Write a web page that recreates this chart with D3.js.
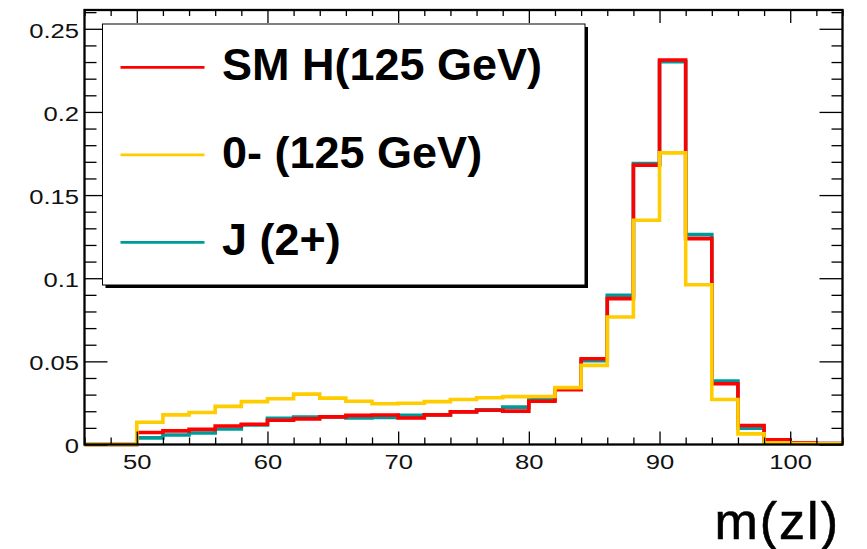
<!DOCTYPE html>
<html>
<head>
<meta charset="utf-8">
<script src="https://cdn.jsdelivr.net/npm/d3@7"></script>
<style>
  html, body { margin: 0; padding: 0; background: #fff; }
  svg { display: block; }
</style>
</head>
<body>
<svg id="chart" width="867" height="549"></svg>
<script>
// Bin low edges of the m(zl) histogram (2 GeV wide bins, 46 to 104)
const binEdges = [46, 48, 50, 52, 54, 56, 58, 60, 62, 64, 66, 68, 70, 72, 74,
                  76, 78, 80, 82, 84, 86, 88, 90, 92, 94, 96, 98, 100, 102, 104];

// Normalised bin contents per hypothesis
const smH = [0, 0, 0.0072, 0.0082, 0.0091, 0.0111, 0.0122, 0.0146, 0.0154, 0.0166,
             0.0175, 0.0177, 0.0159, 0.0178, 0.0196, 0.0206, 0.0201, 0.0260, 0.0329,
             0.0516, 0.0877, 0.1680, 0.2312, 0.1238, 0.0365, 0.0114, 0.0028, 0.0010, 0.0006];
const zeroMinus = [0, 0, 0.0134, 0.0178, 0.0192, 0.0229, 0.0258, 0.0275, 0.0303, 0.0279,
                   0.0260, 0.0245, 0.0248, 0.0258, 0.0271, 0.0281, 0.0288, 0.0289, 0.0342,
                   0.0476, 0.0767, 0.1349, 0.1754, 0.0961, 0.0271, 0.0064, 0.0010, 0.0005, 0.0004];
const spin2 = [0, 0, 0.0040, 0.0057, 0.0069, 0.0093, 0.0118, 0.0157, 0.0165, 0.0166,
               0.0160, 0.0162, 0.0175, 0.0178, 0.0197, 0.0208, 0.0225, 0.0269, 0.0333,
               0.0504, 0.0897, 0.1690, 0.2302, 0.1262, 0.0381, 0.0098, 0.0020, 0.0008, 0.0005];

const seriesNames = ["SM H(125 GeV)", "0- (125 GeV)", "J (2+)"];
const xMajorTicks = [50, 60, 70, 80, 90, 100];
const yMajorTicks = [0, 0.05, 0.1, 0.15, 0.2, 0.25];
const xTitle = "m(zl)";

const colors = { sm: "#ff0000", zm: "#ffcc00", j2: "#009999" };

const svg = d3.select("#chart");
const frame = { left: 84.5, right: 842.5, top: 10, bottom: 444.5 };

const x = d3.scaleLinear().domain([46, 104]).range([frame.left, frame.right]);
const y = d3.scaleLinear().domain([0, 0.2613]).range([frame.bottom, frame.top]);

const xMinor = d3.range(46, 104.001, 2).filter(v => v % 10 !== 0);
const yMinor = d3.range(0, 0.2601, 0.01).map(v => +v.toFixed(2)).filter(v => Math.round(v * 100) % 5 !== 0);

// Histograms drawn as step outlines
function stepPoints(vals) {
  const pts = [];
  vals.forEach((v, i) => {
    pts.push([binEdges[i], v]);
    pts.push([binEdges[i + 1], v]);
  });
  return pts;
}
const line = d3.line().x(d => x(d[0])).y(d => y(d[1]));

const plot = svg.append("g");
[[spin2, colors.j2], [smH, colors.sm], [zeroMinus, colors.zm]].forEach(([vals, c]) => {
  plot.append("path")
    .attr("d", line(stepPoints(vals)))
    .attr("fill", "none")
    .attr("stroke", c)
    .attr("stroke-width", 3.6)
    .attr("stroke-linejoin", "miter");
});

// Axes: major and minor ticks on all four sides, pointing inwards
function styleAxis(g) {
  g.select(".domain").remove();
  g.selectAll(".tick line").attr("stroke", "#000").attr("stroke-width", 1.3);
}
const fmtY = d => d === 0 ? "0" : String(d);
const labelFont = "Liberation Sans, Arial, sans-serif";

svg.append("g").attr("transform", `translate(0,${frame.bottom})`)
  .call(d3.axisBottom(x).tickValues(xMajorTicks).tickSizeInner(-13).tickSizeOuter(0).tickPadding(0))
  .call(styleAxis)
  .call(g => g.selectAll("text")
    .attr("y", 25).attr("dy", 0)
    .attr("transform", "scale(1.22,1)")
    .attr("font-family", labelFont)
    .attr("font-size", 21).attr("fill", "#111"));
svg.append("g").attr("transform", `translate(0,${frame.bottom})`)
  .call(d3.axisBottom(x).tickValues(xMinor).tickSizeInner(-7).tickSizeOuter(0).tickFormat(""))
  .call(styleAxis);

svg.append("g").attr("transform", `translate(0,${frame.top})`)
  .call(d3.axisTop(x).tickValues(xMajorTicks).tickSizeInner(-13).tickSizeOuter(0).tickFormat(""))
  .call(styleAxis);
svg.append("g").attr("transform", `translate(0,${frame.top})`)
  .call(d3.axisTop(x).tickValues(xMinor).tickSizeInner(-6).tickSizeOuter(0).tickFormat(""))
  .call(styleAxis);

svg.append("g").attr("transform", `translate(${frame.left},0)`)
  .call(d3.axisLeft(y).tickValues(yMajorTicks).tickSizeInner(-23).tickSizeOuter(0).tickFormat(fmtY))
  .call(styleAxis)
  .call(g => g.selectAll("text")
    .attr("x", 0).attr("dy", "0.4em")
    .attr("text-anchor", "end")
    .attr("transform", `translate(${79 - frame.left},0) scale(1.22,1)`)
    .attr("font-family", labelFont)
    .attr("font-size", 21).attr("fill", "#111"));
svg.append("g").attr("transform", `translate(${frame.left},0)`)
  .call(d3.axisLeft(y).tickValues(yMinor).tickSizeInner(-12).tickSizeOuter(0).tickFormat(""))
  .call(styleAxis);

svg.append("g").attr("transform", `translate(${frame.right},0)`)
  .call(d3.axisRight(y).tickValues(yMajorTicks).tickSizeInner(-23).tickSizeOuter(0).tickFormat(""))
  .call(styleAxis);
svg.append("g").attr("transform", `translate(${frame.right},0)`)
  .call(d3.axisRight(y).tickValues(yMinor).tickSizeInner(-11).tickSizeOuter(0).tickFormat(""))
  .call(styleAxis);

// Frame
svg.append("rect")
  .attr("x", frame.left).attr("y", frame.top)
  .attr("width", frame.right - frame.left).attr("height", frame.bottom - frame.top)
  .attr("fill", "none").attr("stroke", "#000").attr("stroke-width", 2.3);

// Legend box with drop shadow
const lg = { x: 102.5, y: 24, w: 482.5, h: 261, shadow: 3 };
svg.append("rect")
  .attr("x", lg.x + lg.shadow).attr("y", lg.y + lg.shadow)
  .attr("width", lg.w).attr("height", lg.h).attr("fill", "#000");
svg.append("rect")
  .attr("x", lg.x).attr("y", lg.y)
  .attr("width", lg.w).attr("height", lg.h)
  .attr("fill", "#fff").attr("stroke", "#000").attr("stroke-width", 1);

const legendItems = [
  { name: seriesNames[0], color: colors.sm },
  { name: seriesNames[1], color: colors.zm },
  { name: seriesNames[2], color: colors.j2 }
];
const rowY = d3.scalePoint().domain(d3.range(legendItems.length)).range([67.3, 242.3]);
legendItems.forEach((it, i) => {
  const yy = rowY(i);
  svg.append("line")
    .attr("x1", 120.5).attr("x2", 204.5)
    .attr("y1", yy).attr("y2", yy)
    .attr("stroke", it.color).attr("stroke-width", 2.7);
  svg.append("text")
    .attr("x", 222).attr("y", yy + 12.8)
    .attr("font-family", "Liberation Sans, Arial, sans-serif")
    .attr("font-weight", "bold").attr("font-size", 45)
    .attr("fill", "#000")
    .text(it.name);
});

// X-axis title
svg.append("text")
  .attr("x", 840).attr("y", 538.5)
  .attr("text-anchor", "end")
  .attr("font-family", "Liberation Sans, Arial, sans-serif")
  .attr("font-size", 52)
  .attr("letter-spacing", 2)
  .attr("fill", "#000")
  .attr("stroke", "#000").attr("stroke-width", 0.6)
  .text(xTitle);
</script>
</body>
</html>
